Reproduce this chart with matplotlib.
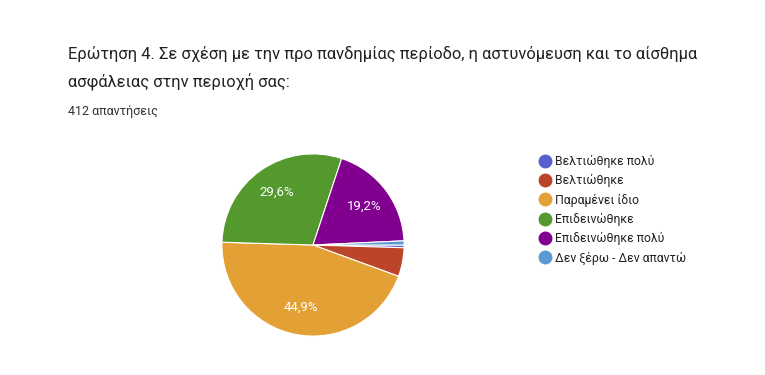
import matplotlib.pyplot as plt
from matplotlib.lines import Line2D

plt.rcParams['font.family'] = ['Roboto', 'DejaVu Sans']

labels = ['Βελτιώθηκε πολύ', 'Βελτιώθηκε', 'Παραμένει ίδιο', 'Επιδεινώθηκε',
          'Επιδεινώθηκε πολύ', 'Δεν ξέρω - Δεν απαντώ']
counts = [2, 21, 185, 122, 79, 3]
colors = ['#5a5fcf', '#bb4429', '#e3a135', '#54992d', '#82008f', '#5b9bd3']

title = 'Ερώτηση 4. Σε σχέση με την προ πανδημίας περίοδο, η αστυνόμευση και το αίσθημα\nασφάλειας στην περιοχή σας:'
subtitle = '412 απαντήσεις'

fig = plt.figure(figsize=(7.65, 3.75), dpi=100)
fig.text(68 / 765, 1 - 46 / 375, title, fontsize=11.85, color='#202124',
         va='top', ha='left', linespacing=1.8)
fig.text(68 / 765, 1 - 112 / 375, subtitle, fontsize=9, color='#333333',
         va='center', ha='left')

ax = fig.add_axes([221 / 765, 38 / 375, 184 / 765, 184 / 375])


def pct(p):
    return f'{p:.1f}%'.replace('.', ',') if p > 10 else ''


wedges, texts, autotexts = ax.pie(counts, colors=colors, startangle=0, counterclock=False,
                                  autopct=pct, pctdistance=0.7,
                                  wedgeprops=dict(edgecolor='white', linewidth=0.8),
                                  textprops=dict(color='white', fontsize=9.5))
ax.set_xlim(-1.01, 1.01)
ax.set_ylim(-1.01, 1.01)

handles = [Line2D([], [], marker='o', linestyle='', markersize=9, markerfacecolor=c,
                  markeredgecolor=c) for c in colors]
fig.legend(handles, labels, loc='upper left', bbox_to_anchor=(528 / 765, 1 - 144 / 375),
           frameon=False, fontsize=8.8, handletextpad=0.3, labelspacing=0.5,
           handlelength=1.0, labelcolor='#222222')

fig.savefig('out.png', dpi=100, facecolor='white')
